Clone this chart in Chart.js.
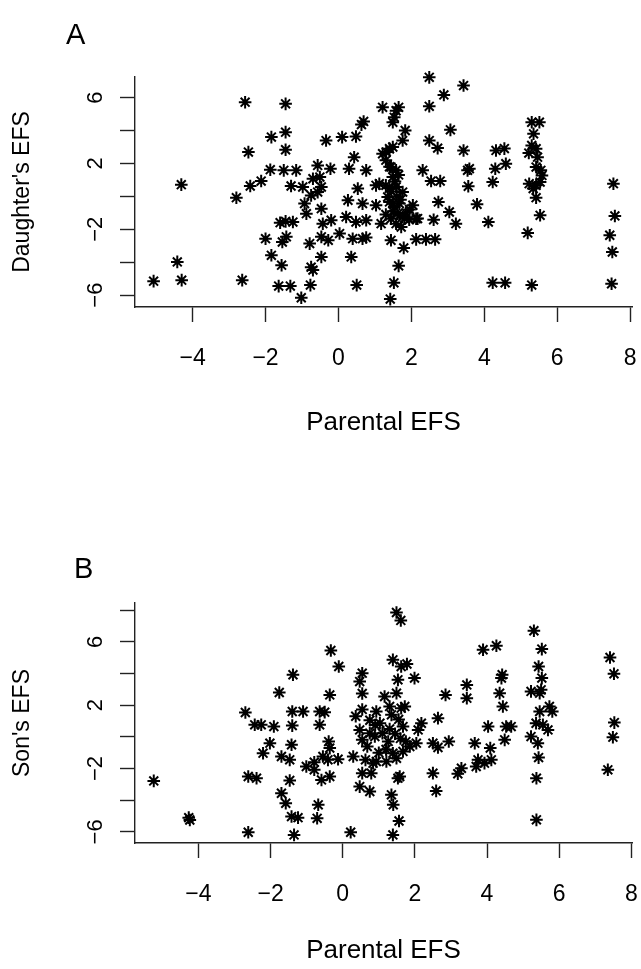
<!DOCTYPE html>
<html>
<head>
<meta charset="utf-8">
<script src="https://cdn.jsdelivr.net/npm/chart.js@4.4.0/dist/chart.umd.min.js"></script>
<style>
  html, body { margin: 0; padding: 0; background: #fff; }
  #wrap { position: relative; width: 641px; height: 969px; }
  canvas { position: absolute; left: 0; }
  #chartA { top: 0; }
  #chartB { top: 480px; }
</style>
</head>
<body>
<div id="wrap">
  <canvas id="chartA" width="641" height="480"></canvas>
  <canvas id="chartB" width="641" height="489"></canvas>
</div>
<script>
// Panel A: parental EFS against daughter's EFS
const parentA = [
  -2.56,-1.45,-1.84,-1.45,-1.45,-2.47,-0.34,0.10,0.48,0.69,
  0.63,-4.31,-2.80,-2.42,-2.12,-1.87,-1.50,-1.16,-1.30,-0.98,
  -0.57,-0.22,-0.70,-0.51,-0.47,-0.57,-0.75,-0.93,-0.88,-0.47,
  -1.45,-1.25,-1.43,-1.54,-2.00,-0.43,-0.20,-0.47,-0.28,0.03,
  -0.79,0.26,0.21,0.48,0.76,0.39,0.66,0.53,0.76,0.43,
  0.29,1.03,0.66,1.03,-1.84,-1.56,-0.47,-0.70,-0.75,0.35,
  -4.42,-5.07,-4.30,-2.64,-1.64,-1.32,-0.77,-1.02,0.50,-1.60,
  2.49,3.43,2.89,2.49,1.21,1.65,1.58,1.49,1.53,1.83,
  1.76,3.07,2.49,2.72,3.43,2.31,2.54,2.79,3.54,3.59,
  3.56,2.74,3.04,3.22,2.61,3.80,4.11,2.13,2.40,2.65,
  1.44,1.79,1.65,1.52,1.42,4.23,4.57,5.30,7.49,7.54,
  7.58,7.44,7.51,4.32,4.55,4.30,4.59,4.23,5.19,5.53,
  5.30,5.51,5.35,5.30,5.42,5.22,5.46,5.42,5.55,5.58,
  5.23,5.42,5.53,5.34,5.42,1.21,1.40,1.49,1.30,1.40,
  1.58,1.49,1.12,1.30,1.58,1.76,1.40,1.53,1.67,2.04,
  1.62,1.76,1.94,2.13,1.17,1.44,1.72,1.58,1.31,1.44,
  1.35,1.49,1.81,2.17,0.76,1.45,1.60,1.70,1.50,1.85,
  1.95,1.30,1.55,1.65,1.40
];
const daughterEFS = [
  5.72,5.62,3.60,3.90,2.83,2.69,3.39,3.60,3.64,4.55,
  4.36,0.71,-0.08,0.63,0.93,1.62,1.58,1.58,0.63,0.57,
  1.88,1.68,1.07,1.17,0.57,0.26,0.06,-0.44,-1.05,-0.75,
  -1.52,-1.56,-2.46,-2.77,-2.57,-1.66,-1.45,-2.46,-2.67,-2.26,
  -2.87,-0.24,-1.25,-1.56,-1.45,-2.57,-2.57,0.47,1.58,2.38,
  1.68,0.67,-0.44,-0.54,-3.58,-4.18,-3.68,-4.48,-4.30,-3.68,
  -3.98,-5.15,-5.09,-5.09,-5.45,-5.45,-5.39,-6.16,-5.39,-1.60,
  7.23,6.73,6.16,5.47,5.41,5.41,5.20,4.50,4.80,4.00,
  3.39,4.04,3.39,2.93,2.79,1.58,0.93,0.93,1.58,1.68,
  0.61,-0.34,-0.95,-1.66,-1.42,-0.48,-1.56,-2.61,-2.61,-2.61,
  -2.67,-3.13,-4.22,-5.25,-6.24,-5.25,-5.25,-5.39,-5.31,0.77,
  -1.19,-2.36,-3.38,2.79,2.90,1.68,1.98,0.87,-2.22,-1.15,
  4.50,4.50,3.80,3.09,2.89,2.63,2.38,1.78,1.58,1.27,
  0.77,0.67,0.87,0.47,-0.08,2.59,2.89,3.00,2.20,1.80,
  1.58,1.17,0.77,0.67,0.57,0.26,-0.34,-0.65,-0.44,-0.54,
  -1.05,-1.25,-1.42,-1.36,-1.66,-1.36,-1.86,-1.66,2.69,1.78,
  -0.04,-0.44,-1.35,-1.35,-2.50,0.30,0.00,-0.20,-0.90,-1.00,
  -0.80,-1.10,0.90,1.30,0.50
];

// Panel B: parental EFS against son's EFS
const parentB = [
  -0.33,-0.11,-1.38,-1.76,-0.36,0.54,0.47,0.54,-2.70,-2.44,
  -2.26,-1.91,-1.40,-1.10,-1.40,-0.64,-0.50,-0.64,-2.02,-2.21,
  -1.70,-1.47,-1.42,-0.39,-0.36,-0.55,-0.13,-1.01,-0.79,-0.59,
  -0.36,-2.62,-2.39,-1.47,-1.70,-1.58,-0.68,-0.71,-1.42,-1.24,
  -1.35,-2.62,0.22,-5.24,-4.27,-4.24,0.29,0.47,0.75,0.54,
  0.63,0.54,0.36,0.47,0.75,0.54,0.68,-0.79,-0.41,1.49,
  1.61,1.39,1.62,1.78,1.53,1.99,1.16,1.49,1.30,1.62,
  0.93,1.35,1.72,1.03,1.67,2.18,2.09,0.89,1.26,1.86,
  2.04,1.67,1.49,1.21,0.93,0.79,1.53,1.58,1.35,1.40,
  1.56,1.39,2.85,2.64,2.50,2.64,2.94,2.50,2.59,3.19,
  3.29,3.44,3.44,3.89,4.26,3.66,4.03,4.09,3.75,3.70,
  3.93,4.12,4.42,4.40,4.35,4.44,4.53,4.67,4.49,5.30,
  5.52,5.43,5.52,5.50,5.22,5.46,5.73,5.81,5.46,5.36,
  5.55,5.69,5.22,5.41,5.43,5.37,5.37,7.41,7.52,7.53,
  7.49,7.35,1.39,1.10,0.75,0.90,1.30,1.45,1.60,0.84,
  1.20,1.00,1.75,1.55
];
const sonEFS = [
  5.45,4.44,3.92,2.80,2.65,4.02,3.49,2.74,1.54,0.76,
  0.76,0.65,1.60,1.60,0.71,1.60,1.56,0.76,-0.40,-1.03,
  -1.24,-1.45,-0.50,-0.30,-0.71,-1.24,-1.41,-1.87,-2.08,-2.72,
  -2.50,-2.50,-2.61,-2.75,-3.56,-4.19,-4.29,-5.14,-5.03,-5.10,
  -6.19,-6.02,-6.02,-2.78,-5.10,-5.25,-1.24,-3.14,-3.45,-2.29,
  -1.45,1.73,1.30,0.44,0.23,-0.19,-0.61,-1.60,-1.45,7.85,
  7.35,4.86,4.44,4.60,3.60,3.71,2.55,2.76,1.92,1.81,
  1.60,1.39,1.92,0.86,0.65,0.86,0.44,0.02,-0.29,-0.61,
  -0.40,-0.92,-1.35,-1.56,-1.56,-2.29,-2.61,-2.50,-3.66,-4.29,
  -5.31,-6.19,2.65,1.18,-0.40,-0.67,-0.29,-2.29,-3.41,-2.33,
  -1.98,3.28,2.44,5.50,5.75,-0.40,0.65,-0.71,-1.45,-1.87,
  -1.66,-1.45,3.92,3.71,2.76,1.92,0.65,0.65,-0.19,6.70,
  5.54,4.44,3.71,2.97,2.87,2.76,1.92,1.60,1.60,0.86,
  0.76,0.44,0.02,-0.40,-1.31,-2.61,-5.24,5.01,3.98,0.90,
  -0.02,-2.08,-1.03,0.23,1.05,0.75,0.50,0.20,-0.10,-1.66,
  -0.80,-1.00,-0.30,1.10
];

// axes
const xTicks = [-4, -2, 0, 2, 4, 6, 8];
const yTicksA = [-6, -4, -2, 0, 2, 4, 6];
const yTicksB = [-6, -4, -2, 0, 2, 4, 6, 8];
const yLabelled = [-6, -2, 2, 6];
const xTitle = 'Parental EFS';

Chart.defaults.font.family = '"Liberation Sans", Arial, Helvetica, sans-serif';
Chart.defaults.color = '#000';

function tickText(v) {
  return v < 0 ? '\u2212' + Math.abs(v) : String(v);
}

// panel letter (A / B) in the top left corner
const panelLetter = {
  id: 'panelLetter',
  afterDraw(chart, args, opts) {
    const ctx = chart.ctx;
    ctx.save();
    ctx.font = '29px "Liberation Sans", Arial, sans-serif';
    ctx.fillStyle = '#000';
    ctx.textBaseline = 'alphabetic';
    ctx.fillText(opts.text, opts.x, opts.y);
    ctx.restore();
  }
};

function noPadding(scale) {
  scale.paddingTop = 0;
  scale.paddingBottom = 0;
  scale.paddingLeft = 0;
  scale.paddingRight = 0;
}

function makeChart(id, xs, ys, o) {
  const points = xs.map((x, i) => ({ x: x, y: ys[i] }));
  return new Chart(document.getElementById(id), {
    type: 'scatter',
    data: {
      datasets: [{
        data: points,
        pointStyle: 'star',
        pointRadius: 6.3,
        pointBorderWidth: 2,
        pointBorderColor: '#000',
        pointBackgroundColor: '#000',
        clip: false
      }]
    },
    options: {
      responsive: false,
      animation: false,
      events: [],
      layout: { padding: { top: o.top, right: 9, left: 0, bottom: 0 } },
      plugins: {
        legend: { display: false },
        tooltip: { enabled: false },
        panelLetter: { text: o.letter, x: o.letterX, y: o.letterY }
      },
      scales: {
        x: {
          type: 'linear',
          min: o.xMin,
          max: o.xMax,
          afterBuildTicks: (s) => { s.ticks = xTicks.map(v => ({ value: v })); },
          afterFit: (s) => { s.height = o.xHeight; noPadding(s); },
          grid: { drawOnChartArea: false, drawTicks: true, tickLength: 15, tickColor: '#222', tickWidth: 1.4 },
          border: { display: true, color: '#222', width: 1.4 },
          ticks: { font: { size: 23 }, padding: 23, maxRotation: 0, autoSkip: false, callback: (v) => tickText(v) },
          title: { display: true, text: xTitle, font: { size: 26 }, padding: { top: 0, bottom: o.xTitlePad } }
        },
        y: {
          type: 'linear',
          min: o.yMin,
          max: o.yMax,
          afterBuildTicks: (s) => { s.ticks = o.yTicks.map(v => ({ value: v })); },
          afterFit: (s) => { s.width = 135; noPadding(s); },
          grid: { drawOnChartArea: false, drawTicks: true, tickLength: 15, tickColor: '#222', tickWidth: 1.4 },
          border: { display: true, color: '#222', width: 1.4 },
          ticks: {
            font: { size: 22 }, padding: 12, minRotation: 90, maxRotation: 90, crossAlign: 'center', autoSkip: false,
            callback: (v) => yLabelled.includes(v) ? tickText(v) : ''
          },
          title: { display: true, text: o.yTitle, font: { size: 23 }, padding: { top: 9, bottom: 0 } }
        }
      }
    },
    plugins: [panelLetter]
  });
}

makeChart('chartA', parentA, daughterEFS, {
  letter: 'A', letterX: 66, letterY: 44,
  top: 77, xHeight: 173, xTitlePad: 42,
  xMin: -5.58, xMax: 8.05, yMin: -6.72, yMax: 7.25,
  yTicks: yTicksA, yTitle: "Daughter's EFS"
});

makeChart('chartB', parentB, sonEFS, {
  letter: 'B', letterX: 74, letterY: 98,
  top: 123, xHeight: 126, xTitlePad: 3,
  xMin: -5.76, xMax: 8.02, yMin: -6.7, yMax: 8.45,
  yTicks: yTicksB, yTitle: "Son's EFS"
});
</script>
</body>
</html>
